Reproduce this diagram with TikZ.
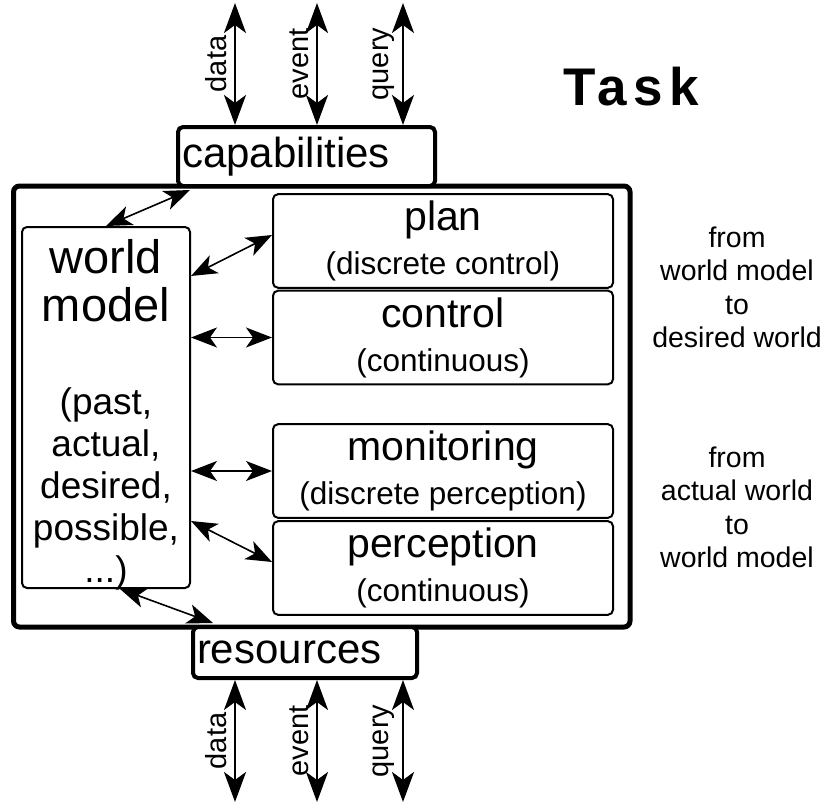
\documentclass[tikz,border=0pt]{standalone}
\usepackage{fontspec}
\setmainfont{Liberation Sans}
\usetikzlibrary{arrows.meta}

\newcommand\partfont{\fontsize{20.5}{22}\selectfont}
\newcommand\subfont{\fontsize{15.75}{18}\selectfont}
\newcommand\notefont{\fontsize{14.25}{16.7}\selectfont}

\tikzset{
  part/.style={draw, line width=1pt, rounded corners=2.5pt, fill=white, align=center,
    minimum width=170pt, minimum height=46pt, font=\partfont},
  port/.style={draw, line width=2pt, rounded corners=2.5pt, fill=white, align=left,
    inner xsep=2pt, font=\fontsize{21}{23}\selectfont},
  link/.style={{Stealth[length=13pt,width=10pt,inset=3.5pt]}-{Stealth[length=13pt,width=10pt,inset=3.5pt]},
    line width=0.8pt},
  flow/.style={{Stealth[length=15pt,width=11pt,inset=4pt]}-{Stealth[length=15pt,width=11pt,inset=4pt]},
    line width=1.1pt},
  flowlabel/.style={rotate=90, anchor=south, inner sep=3.5pt, font=\fontsize{14.5}{16}\selectfont},
}

\begin{document}
\begin{tikzpicture}[x=0.5pt, y=-0.5pt]
        \useasboundingbox (0,0) rectangle (826,803);
        % the task frame with its two ports
        \node (task) [draw, line width=2.5pt, rounded corners=3pt, minimum width=308.25pt, minimum height=220.5pt] at (321.75,406.5) {};
        \node (cap) [port, text width=124.5pt, minimum height=29.5pt] at (306.5,156.5) {capabilities};
        \node (res) [port, text width=108pt, minimum height=25.5pt] at (305,652.5) {resources};
        \node (title) at (631,87) {\fontsize{26.5}{28}\selectfont\bfseries\addfontfeature{LetterSpace=12}Task};

        % world model
        \node (wm) [draw, line width=1pt, rounded corners=2.5pt, minimum width=84pt, minimum height=180.5pt] at (106,407.5) {};
        \node (wmname) [align=center, font=\fontsize{23.5}{24}\selectfont] at (106,281) {world\\model};
        \node (wmkinds) [align=center, font=\fontsize{18.5}{21}\selectfont] at (106,489) {(past,\\actual,\\desired,\\possible,\\...)};

        % the four parts
        \node (plan) [part] at (443,241) {plan\\{\subfont (discrete control)}};
        \node (ctrl) [part] at (443,337.5) {control\\{\subfont (continuous)}};
        \node (mon) [part] at (443,471) {monitoring\\{\subfont (discrete perception)}};
        \node (perc) [part] at (443,568) {perception\\{\subfont (continuous)}};

        \node (down) [align=center, font=\notefont] at (737,287.5) {from\\world model\\to\\desired world};
        \node (up) [align=center, font=\notefont] at (737,507.5) {from\\actual world\\to\\world model};

        % links inside the task
        \draw [link] (wm.north) -- ([xshift=7pt,yshift=-1pt]cap.south west);
        \draw [link] ([yshift=-25pt]wm.north east) -- ([yshift=3pt]plan.west);
        \draw [link] (wm.east |- ctrl.west) -- (ctrl.west);
        \draw [link] (wm.east |- mon.west) -- (mon.west);
        \draw [link] ([yshift=34pt]wm.south east) -- ([yshift=3pt]perc.west);
        \draw [link] ([xshift=7pt]wm.south) -- ([xshift=11pt,yshift=1pt]res.north west);

        % data, event and query on both ports
        \coordinate (cd) at (235,3);
        \coordinate (ce) at (317,3);
        \coordinate (cq) at (403,3);
        \coordinate (rd) at (235,802);
        \coordinate (re) at (317,802);
        \coordinate (rq) at (403,802);
        \draw [flow] (cd) -- node [flowlabel] {data} (cd |- cap.north);
        \draw [flow] (ce) -- node [flowlabel] {event} (ce |- cap.north);
        \draw [flow] (cq) -- node [flowlabel] {query} (cq |- cap.north);
        \draw [flow] (res.south -| rd) -- node [flowlabel] {data} (rd);
        \draw [flow] (res.south -| re) -- node [flowlabel] {event} (re);
        \draw [flow] (res.south -| rq) -- node [flowlabel] {query} (rq);
\end{tikzpicture}
\end{document}
